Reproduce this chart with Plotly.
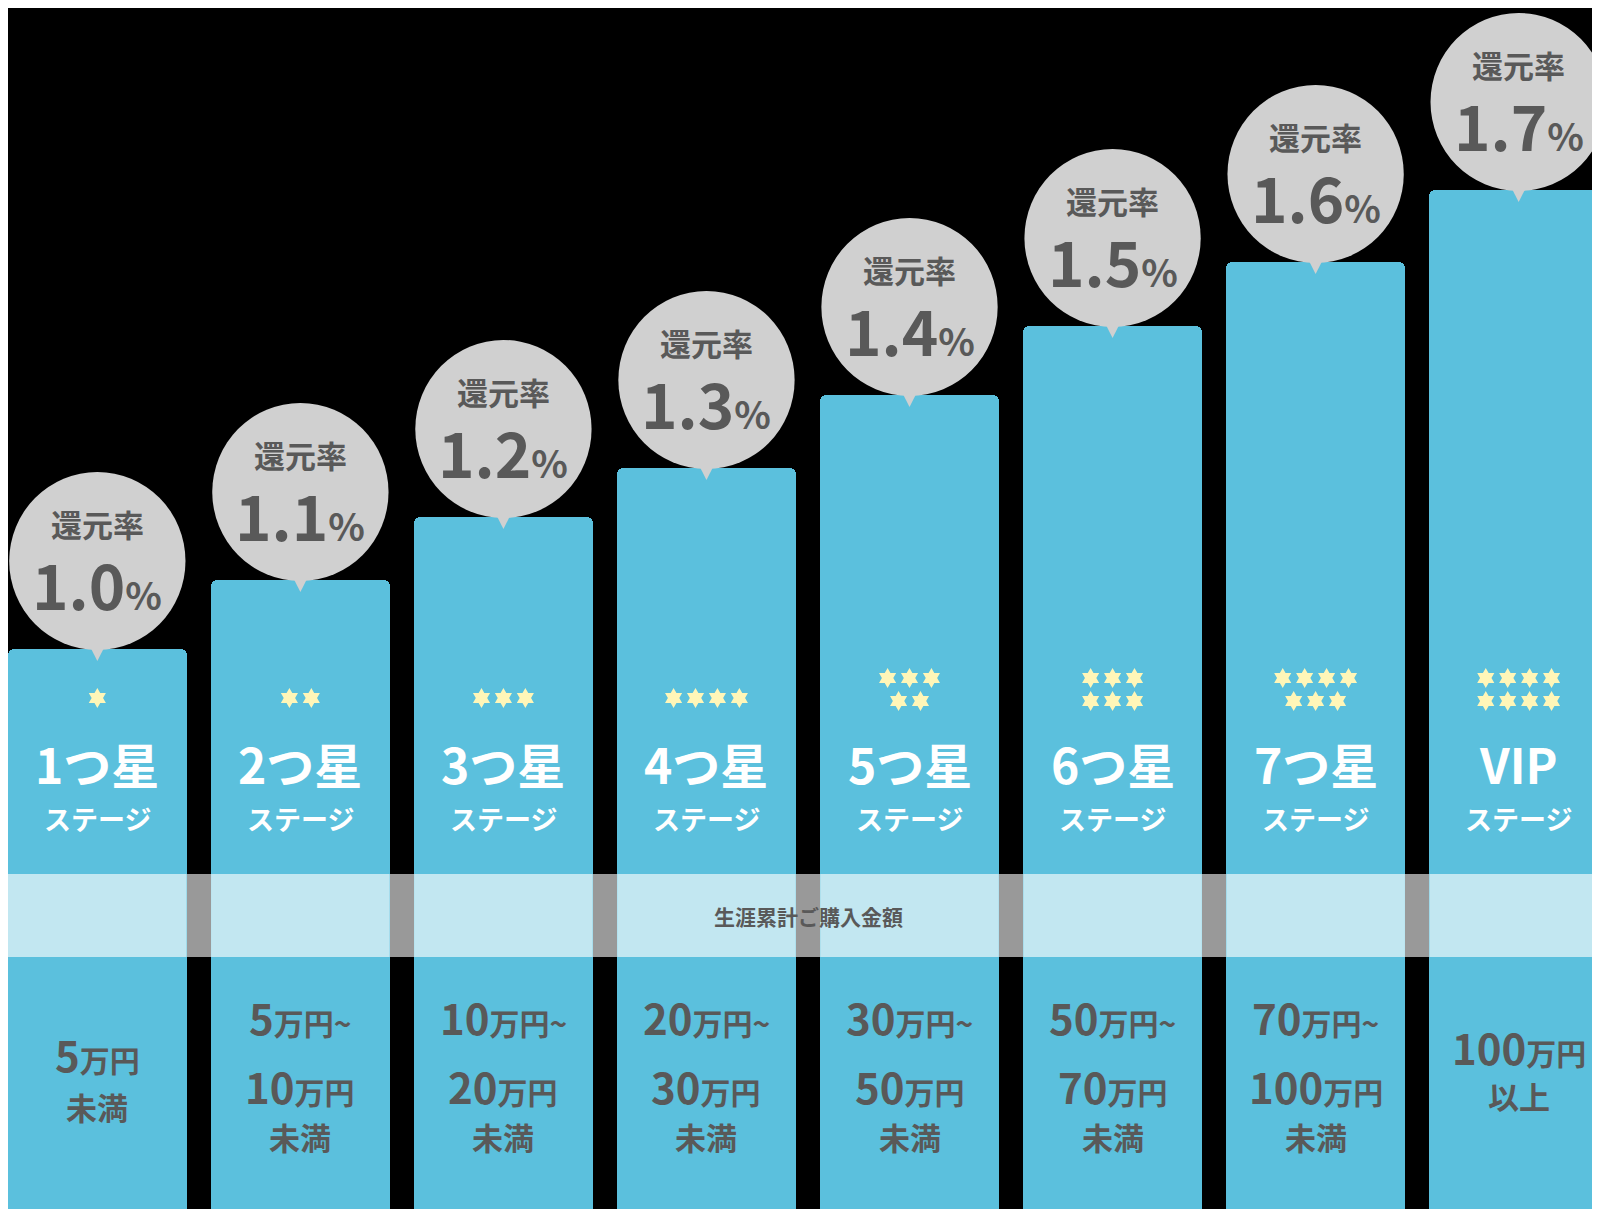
import plotly.graph_objects as go

stages = ["1つ星", "2つ星", "3つ星", "4つ星", "5つ星", "6つ星", "7つ星", "VIP"]
bar_heights = [568, 637, 700, 749, 822, 891, 955, 1027]
rates = ["1.0", "1.1", "1.2", "1.3", "1.4", "1.5", "1.6", "1.7"]
star_rows = [[1], [2], [3], [4], [3, 2], [3, 3], [4, 3], [4, 4]]
amount_lines = [
    [("5", "万円"), ("未満", "")],
    [("5", "万円~"), ("10", "万円"), ("未満", "")],
    [("10", "万円~"), ("20", "万円"), ("未満", "")],
    [("20", "万円~"), ("30", "万円"), ("未満", "")],
    [("30", "万円~"), ("50", "万円"), ("未満", "")],
    [("50", "万円~"), ("70", "万円"), ("未満", "")],
    [("70", "万円~"), ("100", "万円"), ("未満", "")],
    [("100", "万円"), ("以上", "")],
]
band_label = "生涯累計ご購入金額"

FONT = "Noto Sans CJK JP"
BAR = "#5bc0dd"
GRAYTXT = "#595959"
W, H = 1600, 1209
xs = list(range(len(stages)))
bw = 0.88

fig = go.Figure()
fig.add_trace(go.Bar(x=xs, y=bar_heights, width=bw, marker=dict(color=BAR, cornerradius=6, line_width=0),
                     hoverinfo="skip"))

# stars
sx, sy = [], []
for i, rows in enumerate(star_rows):
    ys = [690] if len(rows) == 1 else [670, 693]
    for r, n in enumerate(rows):
        for k in range(n):
            sx.append(i + (k - (n - 1) / 2) * 0.108)
            sy.append(H - ys[r])
fig.add_trace(go.Scatter(x=sx, y=sy, mode="markers", hoverinfo="skip",
                         marker=dict(symbol="hexagram", size=15, color="#fff6b8", line_width=0)))

shapes, ann = [], []
shapes.append(dict(type="rect", xref="paper", x0=0, x1=1, y0=H - 949, y1=H - 866, fillcolor="#999999",
                   line_width=0, layer="below"))
for i, h in enumerate(bar_heights):
    shapes.append(dict(type="rect", x0=i - bw / 2, x1=i + bw / 2, y0=H - 949, y1=H - 866,
                       fillcolor="#c2e7f1", line_width=0, layer="above"))
    yc = h + 88
    r = 89 / 205
    shapes.append(dict(type="circle", x0=i - r, x1=i + r, y0=yc - 89, y1=yc + 89,
                       fillcolor="#d0d0d0", line_width=0, layer="above"))
    shapes.append(dict(type="path", path=f"M {i-0.035} {h+2} L {i+0.035} {h+2} L {i} {h-12} Z",
                       fillcolor="#d0d0d0", line_width=0, layer="above"))
    ann.append(dict(x=i, y=yc + 38, text="<b>還元率</b>", font=dict(size=31, color=GRAYTXT, family=FONT)))
    ann.append(dict(x=i, y=yc - 22, text=f"<b>{rates[i]}<span style='font-size:38px'>%</span></b>",
                    font=dict(size=62, color=GRAYTXT, family=FONT)))
    ann.append(dict(x=i, y=H - 755, text=f"<b>{stages[i]}</b>", font=dict(size=48, color="white", family=FONT)))
    ann.append(dict(x=i, y=H - 810, text="<b>ステージ</b>", font=dict(size=27, color="white", family=FONT)))
    lines = amount_lines[i]
    if len(lines) == 3:
        ys = [1008, 1077, 1128]
    else:
        ys = [1045, 1098] if i == 0 else [1038, 1087]
    for (a, b), y in zip(lines, ys):
        if b:
            t = f"<b>{a}<span style='font-size:30px'>{b}</span></b>"
            sz = 42
        else:
            t = f"<b>{a}</b>"
            sz = 31
        ann.append(dict(x=i, y=H - y, text=t, font=dict(size=sz, color=GRAYTXT, family=FONT)))

ann.append(dict(xref="paper", x=0.5, y=H - 908, text=f"<b>{band_label}</b>",
                font=dict(size=21, color=GRAYTXT, family=FONT)))
for a in ann:
    a.update(showarrow=False, xanchor="center", yanchor="middle")

fig.update_layout(width=W, height=H, margin=dict(l=0, r=0, t=0, b=0), paper_bgcolor="black",
                  plot_bgcolor="black", showlegend=False, shapes=shapes, annotations=ann,
                  xaxis=dict(range=[-0.44, 7.44], visible=False, fixedrange=True),
                  yaxis=dict(range=[0, H], visible=False, fixedrange=True), bargap=0)
fig.write_html("out.html")
